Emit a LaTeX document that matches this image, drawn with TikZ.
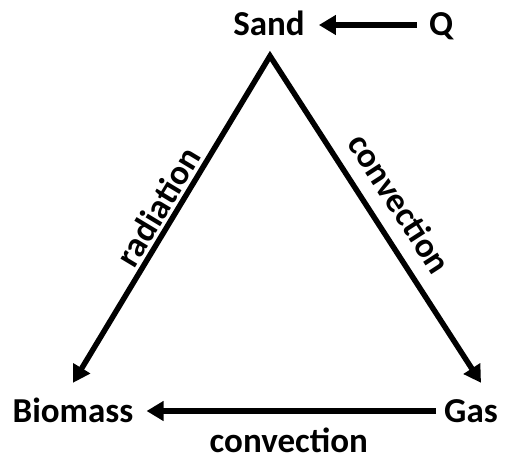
\documentclass[tikz,border=0pt]{standalone}
\usepackage{fontspec}
\setmainfont{Carlito}
\usetikzlibrary{arrows.meta}
\begin{document}
\begin{tikzpicture}[x=1pt,y=-1pt,
  font=\fontsize{35}{40}\selectfont\bfseries,
  term/.style={inner sep=0pt, text height=23pt, text depth=1pt},
  lbl/.style={inner sep=0pt, sloped},
  arr/.style={line width=5.5pt, -{Triangle[length=17pt,width=19pt]}},
  arrboth/.style={line width=5.5pt, line join=miter, {Triangle[length=17pt,width=19pt]}-{Triangle[length=17pt,width=19pt]}}]
\useasboundingbox[fill=white] (0,0) rectangle (508,452);
\node[term] (sand) at (269,25) {Sand};
\node[term] (q) at (441,25) {Q};
\node[term] (bio) at (73,411) {Biomass};
\node[term] (gas) at (471,411) {Gas};
\coordinate (apex) at (270,56);
\coordinate (btip) at ([yshift=16pt]bio.north);
\coordinate (gtip) at ([xshift=10pt,yshift=16pt]gas.north);
\draw[arr, shorten <=12pt, shorten >=14pt] (q.west) -- (sand.east);
\draw[arr, shorten <=8pt, shorten >=13pt] (gas.west) -- node[below=14pt, inner sep=0pt] {convection} (bio.east);
\draw[arrboth] (btip) -- node[lbl, pos=0.51, above=3pt] {radiation} (apex)
  -- node[lbl, pos=0.5, above=14pt] {convection} (gtip);
\end{tikzpicture}
\end{document}
